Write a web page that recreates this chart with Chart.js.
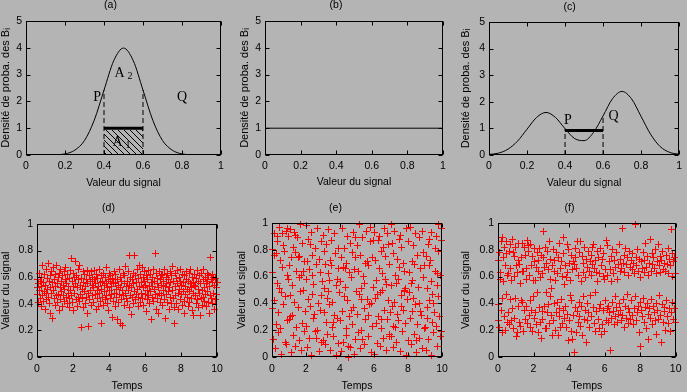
<!DOCTYPE html>
<html><head><meta charset="utf-8">
<script src="https://cdn.jsdelivr.net/npm/chart.js@4"></script>
<style>
html,body{margin:0;padding:0;background:#b4b4b4;}
body{width:687px;height:392px;position:relative;overflow:hidden;}
canvas{position:absolute;display:block;}
</style></head><body>
<canvas id="ca" width="229" height="195" style="left:0;top:0"></canvas>
<canvas id="cb" width="229" height="195" style="left:229px;top:0"></canvas>
<canvas id="cc" width="229" height="195" style="left:458px;top:0"></canvas>
<canvas id="cd" width="229" height="197" style="left:0;top:195px"></canvas>
<canvas id="ce" width="229" height="197" style="left:229px;top:195px"></canvas>
<canvas id="cf" width="229" height="197" style="left:458px;top:195px"></canvas>
<script>
// ---------- data ----------
const densityXTicks = [0, 0.2, 0.4, 0.6, 0.8, 1];
const densityYTicks = [0, 1, 2, 3, 4, 5];
const timeTicks = [0, 2, 4, 6, 8, 10];
const signalTicks = [0, 0.2, 0.4, 0.6, 0.8, 1];

// (a) gaussian-like density
const curveAX = [0.10,0.15,0.20,0.25,0.30,0.35,0.40,0.45,0.50,0.55,0.60,0.65,0.70,0.75,0.80,0.85,0.90];
const curveAY = [0.00,0.01,0.04,0.18,0.54,1.30,2.42,3.52,3.99,3.52,2.42,1.30,0.54,0.18,0.04,0.01,0.00];
// (b) uniform density
const curveBX = [0, 1];
const curveBY = [1, 1];
// (c) bimodal density
const curveCX = [0,0.05,0.10,0.15,0.20,0.25,0.30,0.35,0.40,0.45,0.50,0.55,0.60,0.65,0.70,0.75,0.80,0.85,0.90,0.95,1.00];
const curveCY = [0.02,0.07,0.22,0.52,0.97,1.41,1.60,1.41,0.99,0.62,0.54,0.85,1.47,2.12,2.39,2.11,1.45,0.78,0.32,0.10,0.03];

// interval [P,Q] markers
const intervalA = {from:0.4, to:0.6, level:1.0, hatchTop:0.93, dashTopFrom:2.42, dashTopTo:2.42};
const intervalC = {from:0.4, to:0.6, level:0.92, dashTopFrom:0.99, dashTopTo:1.47};

const textA = [
  {text:'P', x:0.365, y:2.15},
  {text:'Q', x:0.80, y:2.15},
  {text:'A', sub:'2', x:0.50, y:3.05},
  {text:'A', sub:'1', x:0.49, y:0.48}
];
const textC = [
  {text:'P', x:0.415, y:1.30},
  {text:'Q', x:0.655, y:1.45}
];

// (d) signal values, narrow around 0.5 (regularly sampled over time)
const signalD = [
0.47,0.58,0.52,0.41,0.55,0.63,0.50,0.44,0.57,0.38,0.60,0.53,0.46,0.69,0.42,0.56,0.49,0.62,0.36,0.54,0.48,0.66,0.43,0.59,0.51,
0.70,0.45,0.57,0.40,0.61,0.52,0.33,0.48,0.64,0.56,0.29,0.50,0.67,0.44,0.58,0.39,0.62,0.53,0.46,0.69,0.41,0.55,0.60,0.47,0.35,
0.63,0.52,0.43,0.66,0.57,0.49,0.61,0.38,0.54,0.46,0.64,0.51,0.42,0.58,0.67,0.45,0.55,0.40,0.62,0.48,0.53,0.37,0.59,0.44,0.65,
0.50,0.74,0.46,0.57,0.41,0.63,0.53,0.35,0.60,0.48,0.72,0.55,0.43,0.61,0.38,0.52,0.66,0.45,0.58,0.69,0.42,0.54,0.47,0.22,0.59,
0.51,0.44,0.64,0.37,0.56,0.49,0.62,0.40,0.53,0.58,0.45,0.65,0.33,0.55,0.48,0.23,0.61,0.43,0.57,0.50,0.64,0.39,0.54,0.46,0.60,
0.52,0.41,0.58,0.65,0.47,0.55,0.36,0.62,0.50,0.44,0.59,0.53,0.38,0.66,0.48,0.56,0.42,0.61,0.25,0.51,0.57,0.45,0.63,0.39,0.54,
0.49,0.60,0.43,0.55,0.67,0.46,0.52,0.40,0.58,0.35,0.63,0.50,0.44,0.57,0.61,0.47,0.53,0.30,0.59,0.42,0.56,0.64,0.48,0.38,0.55,
0.62,0.45,0.51,0.28,0.58,0.41,0.54,0.66,0.47,0.25,0.60,0.52,0.43,0.57,0.24,0.50,0.63,0.46,0.55,0.39,0.61,0.48,0.68,0.44,0.53,
0.57,0.42,0.50,0.64,0.37,0.76,0.54,0.46,0.60,0.32,0.52,0.58,0.45,0.63,0.40,0.55,0.49,0.76,0.61,0.43,0.56,0.47,0.66,0.51,0.38,
0.59,0.45,0.69,0.53,0.41,0.62,0.48,0.56,0.67,0.44,0.52,0.60,0.39,0.57,0.64,0.47,0.54,0.34,0.61,0.50,0.43,0.58,0.65,0.46,0.53,
0.40,0.62,0.49,0.56,0.28,0.60,0.45,0.53,0.66,0.42,0.57,0.51,0.78,0.47,0.63,0.36,0.55,0.44,0.59,0.33,0.52,0.64,0.48,0.41,0.58,
0.61,0.46,0.54,0.39,0.62,0.50,0.57,0.43,0.66,0.29,0.53,0.47,0.60,0.55,0.41,0.63,0.49,0.58,0.36,0.52,0.64,0.45,0.56,0.40,0.61,
0.50,0.68,0.44,0.57,0.37,0.25,0.53,0.63,0.46,0.59,0.40,0.55,0.65,0.48,0.36,0.60,0.51,0.43,0.57,0.66,0.47,0.54,0.39,0.62,0.49,
0.56,0.42,0.61,0.33,0.53,0.47,0.58,0.64,0.45,0.51,0.38,0.57,0.49,0.63,0.41,0.55,0.66,0.44,0.52,0.35,0.60,0.48,0.56,0.31,0.54,
0.62,0.46,0.53,0.40,0.59,0.65,0.43,0.51,0.57,0.37,0.61,0.48,0.31,0.55,0.44,0.63,0.50,0.39,0.58,0.45,0.66,0.52,0.42,0.60,0.47,
0.55,0.38,0.63,0.49,0.57,0.41,0.61,0.33,0.53,0.46,0.75,0.58,0.44,0.62,0.40,0.56,0.48,0.60,0.36,0.54,0.43,0.59,0.47,0.52,0.56
];
// (e) [time, signal] points spread over [0,1]
const pointsE = [
[0.21,0.06],[0.55,0.02],[0.86,0.09],[0.08,0.13],[0.41,0.18],[0.77,0.11],[0.27,0.24],[0.49,0.21],[0.93,0.27],[0.02,0.36],[0.38,0.33],[0.70,0.39],
[0.16,0.42],[0.58,0.48],[0.81,0.45],[0.31,0.55],[0.44,0.51],[0.97,0.58],[0.05,0.63],[0.63,0.67],[0.89,0.61],[0.24,0.77],[0.52,0.72],[0.74,0.79],
[0.01,0.80],[0.35,0.86],[0.67,0.83],[0.13,0.92],[0.46,0.97],[0.84,0.94],[0.95,0.90],[0.30,0.90],[0.62,0.92],[0.90,0.96],[0.15,0.76],
[1.12,0.03],[1.38,0.08],[1.71,0.05],[1.26,0.16],[1.59,0.12],[1.90,0.19],[1.04,0.28],[1.47,0.22],[1.79,0.25],[1.19,0.31],[1.53,0.37],[1.96,0.34],
[1.08,0.46],[1.34,0.41],[1.67,0.49],[1.23,0.53],[1.61,0.59],[1.85,0.50],[1.02,0.68],[1.43,0.64],[1.76,0.61],[1.15,0.74],[1.36,0.78],[1.64,0.75],
[1.93,0.71],[1.29,0.82],[1.50,0.89],[1.82,0.85],[1.06,0.95],[1.41,0.91],[1.70,0.99],[1.33,0.93],[1.55,0.74],[1.11,0.30],[1.88,0.64],
[2.07,0.07],[2.33,0.01],[2.80,0.04],[2.19,0.14],[2.58,0.19],[2.92,0.11],[2.02,0.23],[2.44,0.29],[2.69,0.20],[2.27,0.38],[2.51,0.32],[2.85,0.35],
[2.12,0.43],[2.39,0.47],[2.74,0.40],[2.04,0.58],[2.47,0.54],[2.96,0.56],[2.22,0.65],[2.62,0.69],[2.87,0.63],[2.09,0.71],[2.36,0.76],[2.78,0.73],
[2.16,0.88],[2.55,0.81],[2.91,0.86],[2.00,0.98],[2.30,0.93],[2.66,0.96],[2.41,0.61],[2.60,0.14],[2.89,0.46],[2.25,0.84],
[3.14,0.09],[3.46,0.05],[3.77,0.01],[3.03,0.12],[3.29,0.17],[3.62,0.15],[3.94,0.10],[3.21,0.26],[3.55,0.22],[3.86,0.29],[3.09,0.33],[3.41,0.39],
[3.70,0.31],[3.25,0.44],[3.58,0.41],[3.98,0.48],[3.11,0.51],[3.37,0.57],[3.81,0.53],[3.30,0.62],[3.52,0.68],[3.89,0.66],[3.06,0.79],[3.44,0.72],
[3.73,0.77],[3.18,0.84],[3.49,0.87],[3.92,0.81],[3.01,0.91],[3.35,0.95],[3.66,0.92],[3.33,0.49],[3.63,0.26],[3.85,0.58],[3.15,0.69],
[4.08,0.04],[4.52,0.00],[4.64,0.07],[4.83,0.02],[4.23,0.11],[4.41,0.16],[4.90,0.13],[4.05,0.27],[4.36,0.21],[4.71,0.24],[4.17,0.34],[4.58,0.30],
[4.79,0.37],[4.29,0.45],[4.47,0.42],[4.96,0.49],[4.02,0.56],[4.33,0.52],[4.68,0.59],[4.19,0.67],[4.55,0.63],[4.87,0.65],[4.10,0.74],[4.39,0.70],
[4.75,0.78],[4.26,0.81],[4.61,0.85],[4.94,0.89],[4.13,0.96],[4.44,0.90],[4.82,0.93],[4.50,0.08],[4.32,0.66],[4.66,0.35],[4.92,0.74],
[5.19,0.06],[5.42,0.09],[5.88,0.03],[5.07,0.18],[5.35,0.13],[5.66,0.15],[5.24,0.20],[5.51,0.28],[5.93,0.23],[5.01,0.32],[5.46,0.36],[5.73,0.39],
[5.15,0.47],[5.59,0.43],[5.84,0.40],[5.28,0.51],[5.44,0.55],[5.97,0.52],[5.11,0.64],[5.38,0.60],[5.70,0.68],[5.22,0.76],[5.62,0.71],[5.91,0.74],
[5.05,0.83],[5.31,0.89],[5.77,0.86],[5.17,0.99],[5.54,0.94],[5.80,0.97],[5.26,0.43],[5.49,0.70],[5.68,0.31],[5.95,0.87],
[6.03,0.02],[6.37,0.08],[6.71,0.05],[6.22,0.10],[6.56,0.14],[6.89,0.17],[6.12,0.25],[6.44,0.21],[6.77,0.28],[6.28,0.30],[6.61,0.35],[6.95,0.33],
[6.07,0.44],[6.40,0.48],[6.83,0.42],[6.17,0.57],[6.52,0.50],[6.74,0.54],[6.31,0.66],[6.48,0.62],[6.92,0.69],[6.09,0.72],[6.43,0.79],[6.66,0.75],
[6.25,0.87],[6.58,0.82],[6.86,0.84],[6.01,0.93],[6.35,0.90],[6.63,0.96],[6.80,0.92],[6.20,0.47],[6.46,0.28],[6.68,0.58],[6.94,0.15],
[7.13,0.07],[7.55,0.04],[7.92,0.01],[7.04,0.15],[7.32,0.11],[7.68,0.19],[7.26,0.22],[7.47,0.27],[7.85,0.25],[7.09,0.38],[7.38,0.32],[7.74,0.35],
[7.19,0.41],[7.60,0.46],[7.97,0.43],[7.02,0.53],[7.43,0.58],[7.79,0.50],[7.88,0.51],[7.29,0.61],[7.51,0.67],[7.82,0.64],[7.15,0.77],[7.36,0.73],
[7.71,0.70],[7.07,0.85],[7.48,0.88],[7.64,0.82],[7.00,0.99],[7.22,0.94],[7.57,0.91],[7.94,0.96],[7.34,0.55],[7.63,0.38],[7.80,0.49],[7.17,0.23],
[8.21,0.09],[8.49,0.03],[8.83,0.06],[8.02,0.12],[8.38,0.17],[8.70,0.14],[8.14,0.29],[8.57,0.24],[8.96,0.21],[8.27,0.34],[8.44,0.39],[8.79,0.31],
[8.06,0.48],[8.35,0.44],[8.68,0.40],[8.19,0.55],[8.61,0.52],[8.90,0.59],[8.11,0.63],[8.41,0.69],[8.75,0.66],[8.24,0.71],[8.53,0.76],[8.93,0.78],
[8.04,0.86],[8.31,0.83],[8.66,0.89],[8.16,0.97],[8.47,0.92],[8.87,0.94],[8.29,0.57],[8.50,0.12],[8.72,0.34],[8.98,0.68],
[9.08,0.05],[9.36,0.01],[9.74,0.08],[9.22,0.13],[9.51,0.18],[9.89,0.15],[9.97,0.19],[9.03,0.22],[9.43,0.26],[9.66,0.23],[9.17,0.37],[9.55,0.33],
[9.83,0.30],[9.29,0.42],[9.46,0.47],[9.78,0.45],[9.12,0.51],[9.38,0.56],[9.71,0.53],[9.25,0.68],[9.59,0.64],[9.93,0.61],[9.06,0.75],[9.33,0.72],
[9.81,0.79],[9.19,0.84],[9.63,0.81],[9.95,0.87],[9.41,0.93],[9.69,0.90],[9.80,0.99],[9.99,0.96],[9.27,0.88],[9.52,0.40],[9.76,0.62],[9.14,0.29]
];
// (f) signal values, two groups near 0.3 and 0.7 (regularly sampled over time)
const signalF = [
0.27,0.72,0.39,0.78,0.22,0.58,0.63,0.86,0.35,0.44,0.89,0.18,0.74,0.56,0.30,0.82,0.68,0.20,0.77,0.47,0.86,0.26,0.61,0.62,0.33,
0.79,0.24,0.66,0.84,0.43,0.57,0.27,0.88,0.36,0.78,0.21,0.75,0.60,0.29,0.82,0.44,0.68,0.15,0.63,0.18,0.72,0.38,0.85,0.26,0.69,
0.55,0.23,0.74,0.42,0.85,0.41,0.64,0.19,0.64,0.35,0.82,0.28,0.76,0.58,0.66,0.38,0.87,0.25,0.83,0.79,0.31,0.61,0.42,0.84,0.22,
0.68,0.35,0.75,0.19,0.57,0.45,0.81,0.29,0.71,0.57,0.33,0.67,0.24,0.78,0.48,0.64,0.18,0.72,0.37,0.81,0.26,0.59,0.14,0.76,0.34,
0.62,0.28,0.74,0.94,0.67,0.38,0.82,0.21,0.70,0.48,0.21,0.79,0.33,0.65,0.39,0.86,0.25,0.58,0.45,0.73,0.31,0.51,0.68,0.16,0.80,
0.27,0.64,0.40,0.72,0.20,0.57,0.33,0.78,0.41,0.62,0.16,0.74,0.36,0.85,0.30,0.66,0.22,0.71,0.43,0.60,0.25,0.89,0.35,0.77,0.54,
0.29,0.68,0.38,0.59,0.22,0.84,0.32,0.63,0.12,0.80,0.27,0.70,0.46,0.57,0.19,0.76,0.42,0.65,0.13,0.71,0.31,0.69,0.03,0.74,0.37,
0.81,0.18,0.66,0.34,0.86,0.26,0.61,0.41,0.78,0.30,0.86,0.23,0.56,0.38,0.75,0.16,0.63,0.45,0.70,0.28,0.82,0.35,0.59,0.11,0.73,
0.40,0.67,0.27,0.79,0.33,0.64,0.22,0.71,0.46,0.76,0.30,0.61,0.82,0.69,0.37,0.84,0.25,0.66,0.48,0.72,0.19,0.63,0.34,0.79,0.56,
0.28,0.74,0.36,0.62,0.21,0.81,0.39,0.68,0.17,0.73,0.24,0.60,0.35,0.77,0.19,0.58,0.42,0.65,0.27,0.87,0.36,0.83,0.61,0.38,0.26,
0.71,0.33,0.65,0.05,0.75,0.29,0.56,0.41,0.80,0.34,0.62,0.24,0.72,0.45,0.67,0.30,0.78,0.37,0.58,0.26,0.69,0.32,0.84,0.40,0.64,
0.35,0.73,0.27,0.66,0.96,0.31,0.70,0.43,0.76,0.22,0.63,0.38,0.81,0.29,0.69,0.47,0.74,0.25,0.61,0.36,0.79,0.33,0.67,0.28,0.72,
0.42,0.65,0.31,0.77,0.24,0.70,0.36,0.62,0.99,0.45,0.74,0.27,0.68,0.33,0.80,0.38,0.64,0.18,0.73,0.41,0.59,0.08,0.71,0.35,0.66,
0.30,0.78,0.44,0.63,0.26,0.72,0.37,0.85,0.21,0.67,0.40,0.75,0.32,0.61,0.13,0.70,0.36,0.88,0.29,0.64,0.43,0.77,0.24,0.69,0.38,
0.74,0.33,0.66,0.27,0.80,0.40,0.62,0.17,0.71,0.35,0.84,0.28,0.68,0.46,0.75,0.31,0.63,0.11,0.72,0.39,0.79,0.26,0.65,0.34,0.70,
0.37,0.64,0.20,0.76,0.42,0.69,0.30,0.81,0.25,0.62,0.36,0.73,0.19,0.68,0.95,0.33,0.77,0.41,0.60,0.28,0.71,0.36,0.74,0.62,0.26
];
const timeStart = 0, timeEnd = 10;

// ---------- helpers ----------
const SANS = '"Liberation Sans", "DejaVu Sans", Arial, sans-serif';
const SERIF = '"Liberation Serif", "DejaVu Serif", serif';
const zip = (xs, ys) => xs.map((x, i) => ({x, y: ys[i]}));
const series = (vals) => vals.map((v, i) => ({x: timeStart + i * (timeEnd - timeStart) / (vals.length - 1), y: v}));
const pairs = (pts) => pts.map(p => ({x: p[0], y: p[1]}));
const fmt = (v) => String(+Number(v).toFixed(2));

const frameTicks = {
  id: 'frameTicks',
  beforeDatasetsDraw(chart) { chart.ctx.imageSmoothingEnabled = false; },
  afterDatasetsDraw(chart) {
    const {ctx, chartArea: a, scales: {x, y}} = chart;
    const L = Math.round(a.left) + 0.5, R = Math.round(a.right) - 0.5;
    const T = Math.round(a.top) + 0.5, B = Math.round(a.bottom) - 0.5;
    ctx.save();
    ctx.strokeStyle = '#000'; ctx.lineWidth = 1; ctx.setLineDash([]);
    ctx.beginPath();
    const len = 4;
    x.ticks.forEach(t => {
      const p = Math.round(x.getPixelForValue(t.value)) + 0.5;
      ctx.moveTo(p, B); ctx.lineTo(p, B - len);
      ctx.moveTo(p, T); ctx.lineTo(p, T + len);
    });
    y.ticks.forEach(t => {
      const p = Math.round(y.getPixelForValue(t.value)) + 0.5;
      ctx.moveTo(L, p); ctx.lineTo(L + len, p);
      ctx.moveTo(R, p); ctx.lineTo(R - len, p);
    });
    ctx.stroke();
    ctx.strokeRect(L, T, R - L, B - T);
    ctx.restore();
  }
};

const panelText = {
  id: 'panelText',
  afterDatasetsDraw(chart, args, opts) {
    const items = (opts && opts.items) || [];
    if (!items.length) return;
    const {ctx, scales: {x, y}} = chart;
    ctx.save();
    ctx.fillStyle = '#000'; ctx.textBaseline = 'middle'; ctx.textAlign = 'left';
    items.forEach(it => {
      const px = x.getPixelForValue(it.x), py = y.getPixelForValue(it.y);
      ctx.font = '14px ' + SERIF;
      const w = ctx.measureText(it.text).width;
      let sw = 0;
      if (it.sub) { ctx.font = '10px ' + SERIF; sw = ctx.measureText(it.sub).width + 3; }
      const start = px - (w + sw) / 2;
      ctx.font = '14px ' + SERIF;
      ctx.fillText(it.text, start, py);
      if (it.sub) { ctx.font = '10px ' + SERIF; ctx.fillText(it.sub, start + w + 3, py + 3); }
    });
    ctx.restore();
  }
};
Chart.register(frameTicks, panelText);

function makeHatch() {
  const c = document.createElement('canvas');
  c.width = 6; c.height = 6;
  const g = c.getContext('2d');
  g.strokeStyle = '#000'; g.lineWidth = 1;
  g.beginPath();
  g.moveTo(-1, -1); g.lineTo(7, 7);
  g.moveTo(-1, 5); g.lineTo(1, 7);
  g.moveTo(5, -1); g.lineTo(7, 1);
  g.stroke();
  return g.createPattern(c, 'repeat');
}

function makeCross() {
  const c = document.createElement('canvas');
  c.width = 7; c.height = 7;
  const g = c.getContext('2d');
  g.fillStyle = '#ff0000';
  g.fillRect(0, 3, 7, 1);
  g.fillRect(3, 0, 1, 7);
  return c;
}
const crossImg = makeCross();

function options(cfg) {
  return {
    responsive: false, animation: false, events: [],
    layout: {padding: {left: 0, right: cfg.padR, top: 0, bottom: 0}},
    elements: {point: {radius: 0}, line: {borderCapStyle: 'butt'}},
    plugins: {
      legend: {display: false}, tooltip: {enabled: false},
      title: {display: true, text: cfg.title, color: '#000',
        font: {family: SANS, size: 10.5, weight: 'normal', lineHeight: 1},
        padding: {top: cfg.titleTop, bottom: cfg.titleBottom}},
      panelText: {items: cfg.items || []}
    },
    scales: {
      x: {type: 'linear', min: cfg.xMin, max: cfg.xMax,
        afterBuildTicks: s => { s.ticks = cfg.xTicks.map(v => ({value: v})); },
        afterFit: s => { s.height = cfg.xH; },
        grid: {display: false, drawTicks: false}, border: {display: false},
        ticks: {color: '#000', font: {family: SANS, size: 10.5}, padding: cfg.xTickPad, maxRotation: 0, autoSkip: false, callback: fmt},
        title: {display: true, text: cfg.xTitle, color: '#000', font: {family: SANS, size: 10.5, lineHeight: 1.2},
          padding: {top: 0, bottom: cfg.xTitlePad}}
      },
      y: {type: 'linear', min: cfg.yMin, max: cfg.yMax,
        afterBuildTicks: s => { s.ticks = cfg.yTicks.map(v => ({value: v})); },
        afterFit: s => { s.width = cfg.yW; },
        grid: {display: false, drawTicks: false}, border: {display: false},
        ticks: {color: '#000', font: {family: SANS, size: 10.5}, padding: 4, autoSkip: false, callback: fmt},
        title: {display: true, text: cfg.yTitle, color: '#000', font: {family: SANS, size: 11, lineHeight: 1},
          padding: {top: cfg.yTitlePad, bottom: 0}}
      }
    }
  };
}

const black = '#000';
const lineDs = (data, extra) => Object.assign({data, borderColor: black, borderWidth: 1, pointRadius: 0, fill: false}, extra || {});
const densityTitle = 'Densité de proba. des Bᵢ';

// (a)
new Chart(document.getElementById('ca'), {
  type: 'line',
  data: {datasets: [
    lineDs([{x: intervalA.from, y: intervalA.hatchTop}, {x: intervalA.to, y: intervalA.hatchTop}],
      {borderWidth: 0, fill: 'origin', backgroundColor: makeHatch()}),
    lineDs(zip(curveAX, curveAY), {cubicInterpolationMode: 'monotone'}),
    lineDs([{x: intervalA.from, y: 0}, {x: intervalA.from, y: intervalA.dashTopFrom}], {borderDash: [5, 3]}),
    lineDs([{x: intervalA.to, y: 0}, {x: intervalA.to, y: intervalA.dashTopTo}], {borderDash: [5, 3]}),
    lineDs([{x: intervalA.from, y: intervalA.level}, {x: intervalA.to, y: intervalA.level}], {borderWidth: 3})
  ]},
  options: options({title: '(a)', padR: 8, yW: 26, xH: 40, titleTop: 0, titleBottom: 10.5,
    xMin: 0, xMax: 1, yMin: 0, yMax: 5, xTicks: densityXTicks, yTicks: densityYTicks,
    xTitle: 'Valeur du signal', yTitle: densityTitle, xTickPad: 5, xTitlePad: 5.7, yTitlePad: 0.5, items: textA})
});

// (b)
new Chart(document.getElementById('cb'), {
  type: 'line',
  data: {datasets: [lineDs(zip(curveBX, curveBY))]},
  options: options({title: '(b)', padR: 15, yW: 36, xH: 40, titleTop: 0, titleBottom: 10.5,
    xMin: 0, xMax: 1, yMin: 0, yMax: 5, xTicks: densityXTicks, yTicks: densityYTicks,
    xTitle: 'Valeur du signal', yTitle: densityTitle, xTickPad: 5, xTitlePad: 6.5, yTitlePad: 10.5})
});

// (c)
new Chart(document.getElementById('cc'), {
  type: 'line',
  data: {datasets: [
    lineDs(zip(curveCX, curveCY), {cubicInterpolationMode: 'monotone'}),
    lineDs([{x: intervalC.from, y: 0}, {x: intervalC.from, y: intervalC.dashTopFrom}], {borderDash: [5, 3]}),
    lineDs([{x: intervalC.to, y: 0}, {x: intervalC.to, y: intervalC.dashTopTo}], {borderDash: [5, 3]}),
    lineDs([{x: intervalC.from, y: intervalC.level}, {x: intervalC.to, y: intervalC.level}], {borderWidth: 3})
  ]},
  options: options({title: '(c)', padR: 6, yW: 31, xH: 40, titleTop: 1.75, titleBottom: 9.75,
    xMin: 0, xMax: 1, yMin: 0, yMax: 5, xTicks: densityXTicks, yTicks: densityYTicks,
    xTitle: 'Valeur du signal', yTitle: densityTitle, xTickPad: 5, xTitlePad: 5.7, yTitlePad: 2.5, items: textC})
});

const scatterDs = (data) => ({data, pointStyle: crossImg, pointRadius: 3.5, borderColor: '#ff0000',
  backgroundColor: '#ff0000', borderWidth: 1, clip: 4});

function scatterChart(id, title, data, cfg) {
  new Chart(document.getElementById(id), {
    type: 'scatter',
    data: {datasets: [scatterDs(data)]},
    options: options(Object.assign({title, xH: 35, titleTop: 7.75,
      xMin: timeStart, xMax: timeEnd, yMin: 0, yMax: 1, xTicks: timeTicks, yTicks: signalTicks,
      xTitle: 'Temps', yTitle: 'Valeur du signal', xTickPad: 5.5, xTitlePad: 0}, cfg))
  });
}
scatterChart('cd', '(d)', series(signalD), {padR: 12, yW: 37, titleBottom: 10.75, yTitlePad: 0});
scatterChart('ce', '(e)', pairs(pointsE), {padR: 16, yW: 43, titleBottom: 9.75, yTitlePad: 7.5});
scatterChart('cf', '(f)', series(signalF), {padR: 6, yW: 40, titleBottom: 9.75, yTitlePad: 2.5});
</script>
</body></html>
